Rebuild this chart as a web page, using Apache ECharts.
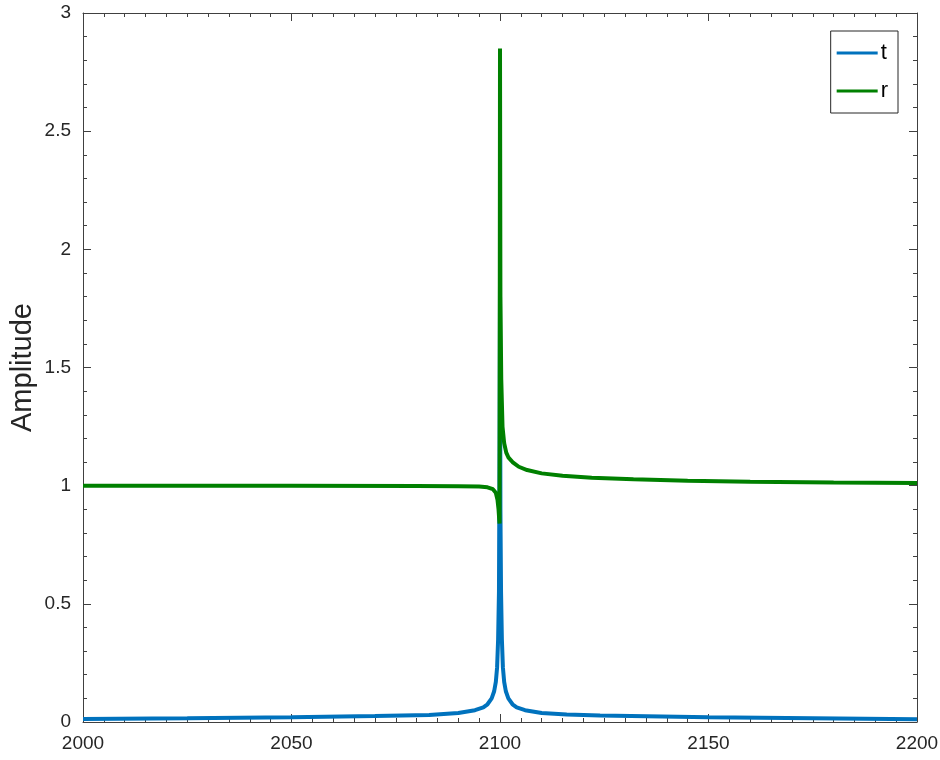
<!DOCTYPE html>
<html>
<head>
<meta charset="utf-8">
<script src="https://cdn.jsdelivr.net/npm/echarts@6/dist/echarts.min.js"></script>
<style>
  html, body { margin: 0; padding: 0; background: #fff; }
  #chart { width: 940px; height: 760px; }
</style>
</head>
<body>
<div id="chart"></div>
<script>
// Transmission amplitude t around the 2100 resonance
const tX = [2000, 2025, 2050, 2070, 2083, 2090, 2094, 2096, 2097, 2098, 2098.6, 2099, 2099.3, 2099.55,
            2099.75, 2099.9, 2100,
            2100.1, 2100.25, 2100.45, 2100.7, 2101, 2101.4, 2102, 2103, 2104, 2106, 2110, 2116, 2124, 2150, 2175, 2200];
const tY = [0.013, 0.016, 0.02, 0.025, 0.03, 0.038, 0.05, 0.062, 0.075, 0.1, 0.13, 0.17, 0.23, 0.35,
            0.55, 1.2, 1.85,
            0.9, 0.55, 0.35, 0.23, 0.17, 0.13, 0.1, 0.075, 0.062, 0.05, 0.038, 0.032, 0.027, 0.02, 0.016, 0.012];

// Reflection amplitude r around the same resonance
const rX = [2000, 2050, 2080, 2090, 2095, 2097, 2098.3, 2099, 2099.4, 2099.65, 2099.8, 2099.9, 2100,
            2100.1, 2100.3, 2100.6, 2101, 2101.5, 2102, 2103, 2104.5, 2106.5, 2110, 2115, 2122, 2132, 2145, 2160, 2180, 2200];
const rY = [1.0, 1.0, 0.999, 0.998, 0.996, 0.993, 0.985, 0.97, 0.94, 0.9, 0.86, 0.84, 2.85,
            1.8, 1.45, 1.25, 1.18, 1.14, 1.12, 1.1, 1.08, 1.066, 1.052, 1.042, 1.034, 1.027, 1.021, 1.017, 1.013, 1.011];

const seriesNames = ['t', 'r'];
const seriesColors = ['#0072BD', '#008000'];

const xMin = 2000, xMax = 2200, xStep = 50;
const yMin = 0, yMax = 3, yStep = 0.5;

const pairs = (xs, ys) => xs.map((x, i) => [x, ys[i]]);

const axisColor = '#404040';
const fontFamily = 'Liberation Sans, Arial, sans-serif';
const labelFont = { color: '#262626', fontSize: 19, fontFamily: fontFamily };

function xAxisDef(pos, showLabels) {
  return {
    type: 'value', position: pos, min: xMin, max: xMax, interval: xStep,
    axisLine: { show: true, onZero: false, lineStyle: { color: axisColor, width: 1 } },
    axisTick: { show: true, inside: true, length: 8, lineStyle: { color: axisColor } },
    minorTick: { show: true, splitNumber: 10, length: 4, lineStyle: { color: axisColor } },
    axisLabel: Object.assign({ show: showLabels, margin: 12, formatter: v => String(v) }, labelFont),
    splitLine: { show: false }
  };
}
function yAxisDef(pos, showLabels) {
  return {
    type: 'value', position: pos, min: yMin, max: yMax, interval: yStep,
    axisLine: { show: true, onZero: false, lineStyle: { color: axisColor, width: 1 } },
    axisTick: { show: true, inside: true, length: 8, lineStyle: { color: axisColor } },
    minorTick: { show: true, splitNumber: 5, length: 4, lineStyle: { color: axisColor } },
    axisLabel: Object.assign({ show: showLabels, margin: 12, formatter: v => String(v) }, labelFont),
    splitLine: { show: false }
  };
}

const yLeft = yAxisDef('left', true);
yLeft.name = 'Amplitude';
yLeft.nameLocation = 'middle';
yLeft.nameGap = 46;
yLeft.nameMoveOverlap = false;
yLeft.nameTextStyle = { color: '#262626', fontSize: 29, fontFamily: fontFamily };

const chart = echarts.init(document.getElementById('chart'), null, { renderer: 'canvas' });
chart.setOption({
  animation: false,
  backgroundColor: '#ffffff',
  grid: { left: 83, right: 23, top: 13, bottom: 38, containLabel: false, outerBoundsMode: 'none' },
  xAxis: [xAxisDef('bottom', true), xAxisDef('top', false)],
  yAxis: [yLeft, yAxisDef('right', false)],
  legend: {
    data: seriesNames,
    orient: 'vertical',
    right: 42, top: 31,
    icon: 'rect', itemWidth: 41, itemHeight: 3, itemGap: 16,
    padding: [11, 10, 11, 6],
    borderColor: '#262626', borderWidth: 1, backgroundColor: '#fff',
    textStyle: { color: '#000', fontSize: 22, fontFamily: fontFamily, padding: [0, 0, 0, -2], lineHeight: 20 }
  },
  series: [
    { name: seriesNames[0], type: 'line', data: pairs(tX, tY), showSymbol: false,
      lineStyle: { width: 4, color: seriesColors[0] }, itemStyle: { color: seriesColors[0] }, z: 2 },
    { name: seriesNames[1], type: 'line', data: pairs(rX, rY), showSymbol: false,
      lineStyle: { width: 4, color: seriesColors[1] }, itemStyle: { color: seriesColors[1] }, z: 3 }
  ]
});
</script>
</body>
</html>
